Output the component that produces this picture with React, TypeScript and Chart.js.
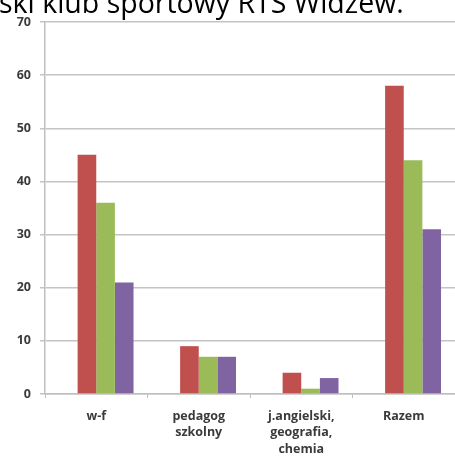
import React, { useEffect, useRef } from "react";
import { Chart, registerables } from "chart.js";

Chart.register(...registerables);

const titleText = "ski klub sportowy RTS Widzew.";
const categories: (string | string[])[] = [
  "w-f",
  ["pedagog", "szkolny"],
  ["j.angielski,", "geografia,", "chemia"],
  "Razem",
];
const seriesEmpty: (number | null)[] = [null, null, null, null];
const seriesRed: number[] = [45, 9, 4, 58];
const seriesGreen: number[] = [36, 7, 1, 44];
const seriesPurple: number[] = [21, 7, 3, 31];
const yMin = 0;
const yMax = 70;
const yStep = 10;

export default function App() {
  const canvasRef = useRef<HTMLCanvasElement | null>(null);

  useEffect(() => {
    document.body.style.margin = "0";
    const canvas = canvasRef.current;
    if (!canvas) return;
    const chart = new Chart(canvas, {
      type: "bar",
      data: {
        labels: categories,
        datasets: [
          { label: "", data: seriesEmpty, backgroundColor: "#ffffff" },
          { label: "A", data: seriesRed, backgroundColor: "#C0504D" },
          { label: "B", data: seriesGreen, backgroundColor: "#9BBB59" },
          { label: "C", data: seriesPurple, backgroundColor: "#8064A2" },
        ],
      },
      options: {
        animation: false,
        responsive: false,
        maintainAspectRatio: false,
        layout: { padding: { top: 22, right: 0, left: 0, bottom: 0 } },
        plugins: {
          legend: { display: false },
          title: { display: false },
          tooltip: { enabled: false },
        },
        datasets: {
          bar: { categoryPercentage: 4 / 5.5, barPercentage: 1 },
        },
        scales: {
          x: {
            grid: {
              drawOnChartArea: false,
              drawTicks: true,
              tickLength: 4,
              color: "#bfbfbf",
              lineWidth: 1,
            },
            border: { color: "#bfbfbf", width: 1.5 },
            ticks: {
              color: "#3a3a3a",
              font: { family: "'Open Sans', sans-serif", size: 12.5, weight: "bold", lineHeight: 1.32 },
              padding: 10,
              maxRotation: 0,
              autoSkip: false,
            },
            afterFit: (s: any) => {
              s.height = 65;
            },
          },
          y: {
            min: yMin,
            max: yMax,
            ticks: {
              stepSize: yStep,
              color: "#3a3a3a",
              font: { family: "'Open Sans', sans-serif", size: 12.5, weight: "bold" },
              padding: 9,
            },
            grid: {
              color: "#c4c4c4",
              lineWidth: 1.5,
              tickLength: 5,
            },
            border: { color: "#bfbfbf", width: 1.5 },
            afterFit: (s: any) => {
              s.width = 45;
            },
          },
        },
      },
    });
    return () => chart.destroy();
  }, []);

  return (
    <div style={{ position: "relative", width: 455, height: 459, overflow: "hidden", background: "#ffffff" }}>
      <canvas ref={canvasRef} width={455} height={459} style={{ position: "absolute", left: 0, top: 0 }} />
      <div
        style={{
          position: "absolute",
          left: -1,
          top: -12.5,
          fontFamily: "'Open Sans', sans-serif",
          fontSize: 28.5,
          lineHeight: 1,
          color: "#000000",
          whiteSpace: "nowrap",
        }}
      >
        {titleText}
      </div>
    </div>
  );
}
